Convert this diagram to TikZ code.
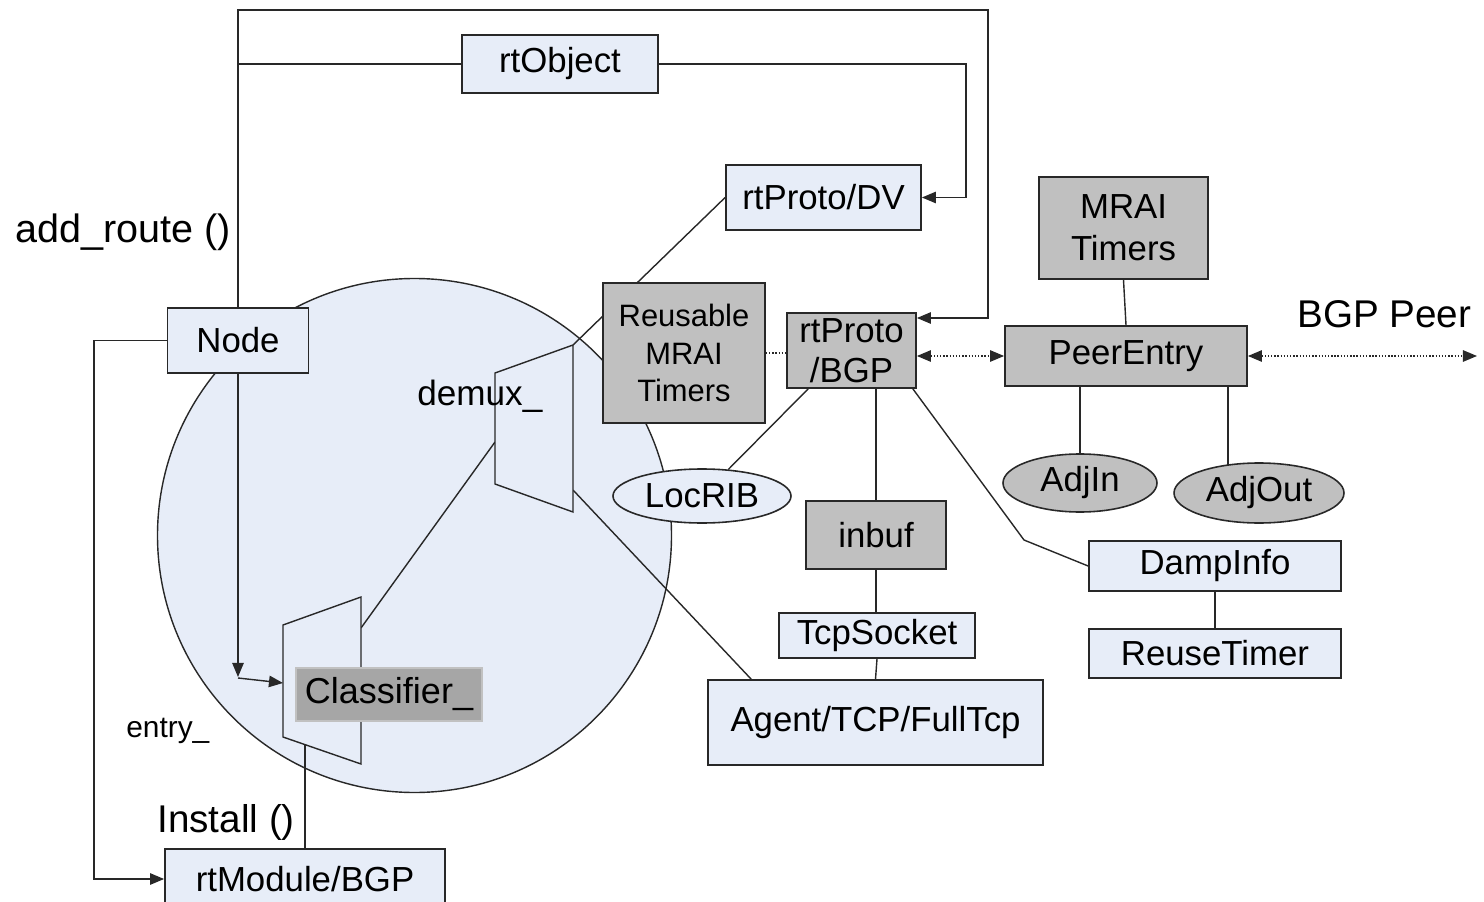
\documentclass[tikz,border=0pt]{standalone}
\usepackage{fontspec}
\setmainfont{Liberation Sans}
\usetikzlibrary{arrows.meta,calc,shapes.geometric}
\definecolor{lb}{RGB}{231,237,248}
\definecolor{gb}{RGB}{192,192,192}
\definecolor{cg}{RGB}{166,166,166}
\definecolor{ln}{RGB}{40,40,40}
\pgfdeclarelayer{bgzero}
\pgfdeclarelayer{bgone}
\pgfsetlayers{bgzero,bgone,main}
\begin{document}
\begin{tikzpicture}[x=0.02cm,y=-0.02cm,
  every node/.style={font=\fontsize{19.8pt}{23pt}\selectfont, text=black},
  sz/.style 2 args={minimum width=#1*0.02cm, minimum height=#2*0.02cm},
  box/.style={draw=ln, line width=1pt, inner sep=0pt, align=center},
  lbox/.style={box, fill=lb},
  gbox/.style={box, fill=gb},
  ell/.style={ellipse, draw=ln, line width=0.9pt, inner sep=0pt},
  conn/.style={draw=ln, line width=0.8pt},
  arr/.style={conn, -{Triangle[length=8pt,width=6.5pt]}},
  darr/.style={conn, densely dotted, {Triangle[length=8pt,width=6.5pt]}-{Triangle[length=8pt,width=6.5pt]}},
  lbl/.style={inner sep=0pt, anchor=base west}]
\useasboundingbox (0,0) rectangle (1484,902);
\clip (0,0) rectangle (1484,902);

\begin{pgfonlayer}{bgzero}
\draw[draw=ln, line width=0.8pt, fill=lb] (414.5,535.5) circle[radius=257*0.02cm];
\end{pgfonlayer}

% trapezoids
\draw[conn, fill=lb] (495,373) -- (573,345) coordinate (d2) -- (573,512) -- (495,484) -- cycle;
\coordinate (dl) at (495,442);
\coordinate (dbr) at (573,490);
\draw[conn, fill=lb] (283,625) -- (361,597) -- (361,764) -- (283,737) -- cycle;
\coordinate (cr) at (361,628);
\coordinate (cl) at (283,683);
\coordinate (cb) at (305,745);

% labels
\node[lbl, font=\fontsize{22.5pt}{26pt}\selectfont] (addroute) at (15,243) {add\_route ()};
\node[lbl, font=\fontsize{22pt}{26pt}\selectfont] (bgppeer) at (1297,327) {BGP Peer};
\node[lbl, font=\fontsize{20pt}{24pt}\selectfont] (demuxl) at (417,405) {demux\_};
\node[lbl, font=\fontsize{17pt}{20pt}\selectfont] (entryl) at (126,737) {entry\_};
\node[lbl, font=\fontsize{22pt}{26pt}\selectfont] (installl) at (157,832) {Install ()};

% boxes
\node[lbox, sz={196}{58}] (rtobj) at (560,64) {rtObject};
\node[lbox, sz={195}{65}] (dv) at (823.5,197.5) {rtProto/DV};
\node[gbox, sz={169}{102}, font=\fontsize{19.8pt}{23.8pt}\selectfont] (mrai) at (1123.5,228) {MRAI\\Timers};
\node[lbox, sz={141}{65}] (node) at (238,340.5) {Node};
\node[gbox, sz={162}{140}, font=\fontsize{17.6pt}{21.5pt}\selectfont] (reus) at (684,353) {Reusable\\MRAI\\Timers};
\node[gbox, sz={129}{75}, font=\fontsize{19.8pt}{23pt}\selectfont] (bgp) at (851.5,350.5) {rtProto\\/BGP};
\node[gbox, sz={242}{60}] (peer) at (1126,356) {PeerEntry};
\node[ell, fill=lb, sz={178}{54}] (locrib) at (702,496) {LocRIB};
\node[ell, fill=gb, sz={154}{58}] (adjin) at (1080,483) {AdjIn};
\node[ell, fill=gb, sz={170}{60}] (adjout) at (1259,493) {AdjOut};
\node[gbox, sz={140}{68}] (inbuf) at (876,535) {inbuf};
\node[lbox, sz={252}{50}] (damp) at (1215,566) {DampInfo};
\node[lbox, sz={196}{45}] (tcp) at (877,635.5) {TcpSocket};
\node[lbox, sz={252}{49}] (reuse) at (1215,653.5) {ReuseTimer};
\node[lbox, sz={335}{85}] (agent) at (875.5,722.5) {Agent/TCP/FullTcp};
\node[fill=cg, draw=cg!70!white, line width=0.8pt, inner sep=0pt, sz={186}{53}, font=\fontsize{20.5pt}{24pt}\selectfont] (cls) at (389,694.5) {Classifier\_};
\node[lbox, sz={280}{60}] (rtmod) at (305,879) {rtModule/BGP};

\coordinate (t318) at (0,318);
\coordinate (peerend) at (1477,356);
\coordinate (ao) at (1228,472);
\coordinate (ao0) at (1228,0);
\coordinate (nd) at (238,677);
\coordinate (nd2) at (238,678);
\coordinate (dk) at (1024,540);

\begin{pgfonlayer}{bgone}
\draw[arr] (node.north) |- (988,10) -- (988,318) -- (bgp.east |- t318);
\draw[conn] (node.north |- rtobj.west) -- (rtobj.west);
\draw[arr] (rtobj.east) -| (966,197.5) -- (dv.east);
\draw[arr] (node.west) -| (94,879) -- (rtmod.west);
\draw[arr] (node.south) -- (nd);
\draw[arr] (nd2) -- (cl);
\draw[conn] (cb) -- (rtmod.north);
\draw[conn] (cr) -- (dl);
\draw[conn] (dv.west) -- (d2);
\draw[conn] (dbr) -- ($(agent.north west)+(44,0)$);
\draw[conn, densely dotted] (reus.east) -- (reus.east -| bgp.west);
\draw[darr] (bgp.east |- peer.west) -- (peer.west);
\draw[darr] (peer.east) -- (peerend);
\draw[conn] (mrai.south) -- (peer.north);
\draw[conn] (adjin.north |- peer.south) -- (adjin.north);
\draw[conn] (peer.south -| ao0) -- (ao);
\draw[conn] (inbuf.north |- bgp.south) -- (inbuf.north);
\draw[conn] (inbuf.south) -- (inbuf.south |- tcp.north);
\draw[conn] (tcp.south) -- (agent.north);
\draw[conn] ($(bgp.south east)+(-4,0)$) -- (dk) -- (damp.west);
\draw[conn] ($(bgp.south west)+(22,0)$) -- (locrib);
\draw[conn] (damp.south) -- (reuse.north);
\end{pgfonlayer}
\end{tikzpicture}
\end{document}
